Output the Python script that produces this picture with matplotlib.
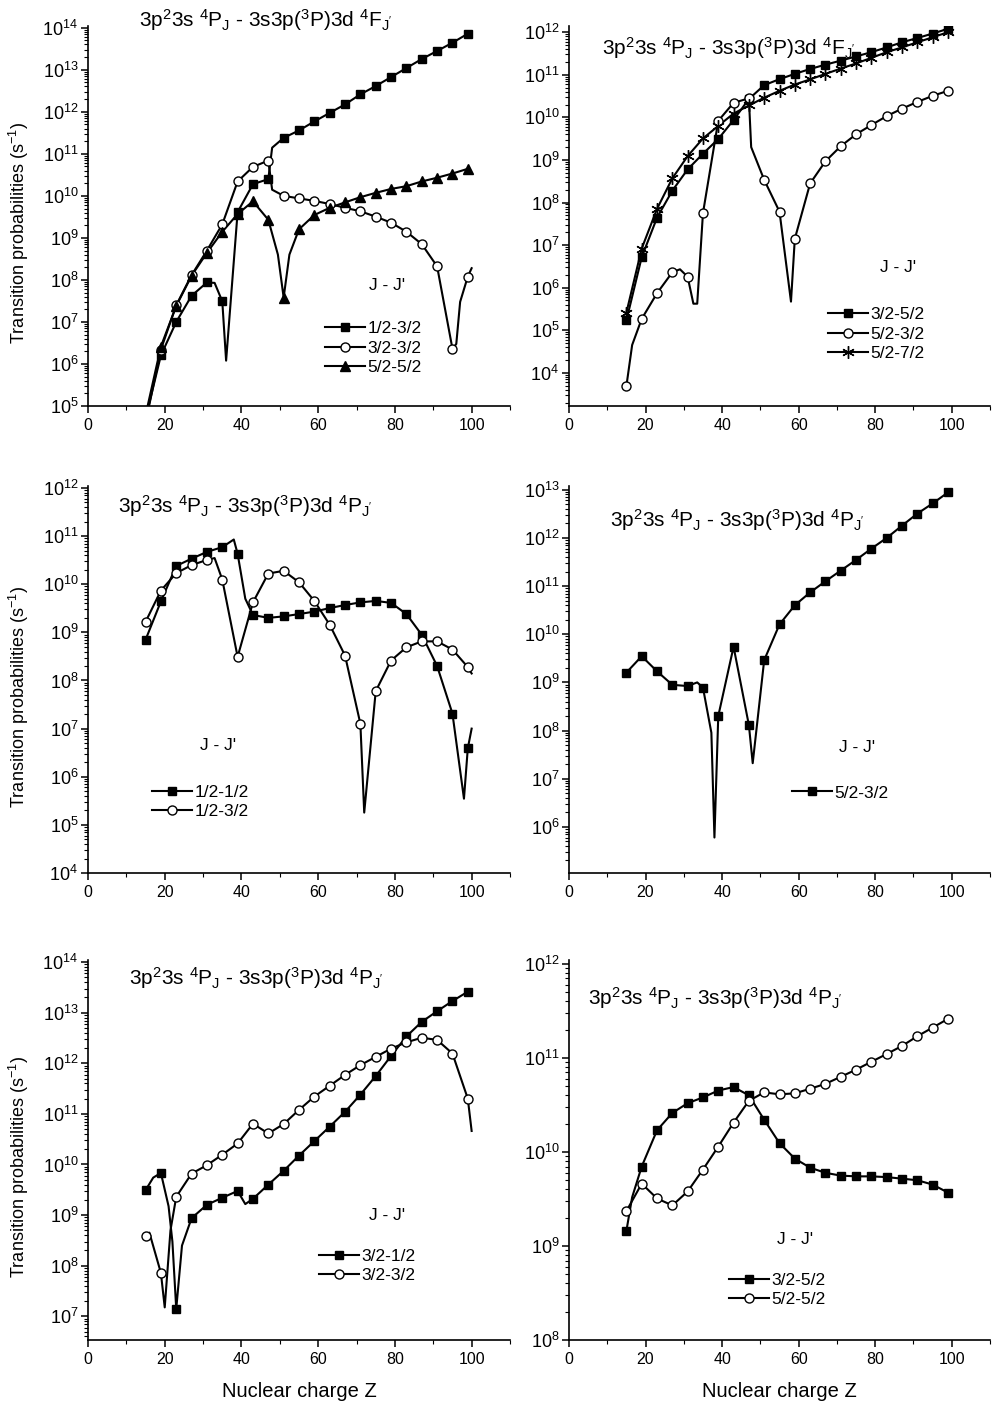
import numpy as np
import matplotlib
matplotlib.use('Agg')
import matplotlib.pyplot as plt
from matplotlib.lines import Line2D
from matplotlib.ticker import LogLocator, NullFormatter, MultipleLocator

plt.rcParams['font.family'] = ['Liberation Sans', 'DejaVu Sans']
plt.rcParams['mathtext.fontset'] = 'custom'
plt.rcParams['mathtext.rm'] = 'Liberation Sans'
plt.rcParams['mathtext.it'] = 'Liberation Sans:italic'
plt.rcParams['mathtext.default'] = 'regular'

# nuclear charge of the computed points
Z = [15, 19, 23, 27, 31, 35, 39, 43, 47, 51, 55, 59, 63, 67, 71, 75, 79, 83, 87, 91, 95, 99]

# --- 4F_J' , left ---
fa_12_32 = [5e4, 1.6e6, 1.0e7, 4.2e7, 8.7e7, 3.1e7, 4.1e9, 1.9e10, 2.5e10, 2.4e11, 3.6e11,
            5.9e11, 9.4e11, 1.5e12, 2.6e12, 4.1e12, 6.7e12, 1.1e13, 1.8e13, 2.8e13, 4.4e13, 7.2e13]
fa_12_32_xz = [33, 36, 48]
fa_12_32_xv = [8.5e7, 1.2e6, 1.4e11]
fa_32_32 = [4e4, 2.2e6, 2.5e7, 1.3e8, 5e8, 2.1e9, 2.2e10, 4.9e10, 6.9e10, 1.0e10, 8.7e9,
            7.6e9, 6.4e9, 5.2e9, 4.3e9, 3.2e9, 2.3e9, 1.4e9, 7.1e8, 2.1e8, 2.3e6, 1.2e8]
fa_32_32_xz = [48, 96, 97, 100]
fa_32_32_xv = [1.4e10, 3e6, 3e7, 1.9e8]
fa_52_52 = [6e4, 2.6e6, 2.4e7, 1.26e8, 4.4e8, 1.4e9, 3.7e9, 7.4e9, 2.7e9, 3.8e7, 1.6e9,
            3.5e9, 5.2e9, 7e9, 9.3e9, 1.18e10, 1.46e10, 1.7e10, 2.2e10, 2.7e10, 3.4e10, 4.4e10]
fa_52_52_xz = [49.5, 52.5]
fa_52_52_xv = [4e8, 4e8]

# --- 4F_J' , right ---
fb_32_52 = [1.7e5, 5.2e6, 4.4e7, 1.9e8, 6e8, 1.4e9, 3.1e9, 8.7e9, 2.7e10, 5.7e10, 7.9e10,
            1.05e11, 1.37e11, 1.73e11, 2.15e11, 2.7e11, 3.4e11, 4.4e11, 5.8e11, 7.3e11, 9.3e11, 1.2e12]
fb_52_32 = [4.9e3, 1.85e5, 7.4e5, 2.3e6, 1.8e6, 5.6e7, 8.3e9, 2.2e10, 2.8e10, 3.4e8, 6.1e7,
            1.4e7, 2.8e8, 9.3e8, 2.1e9, 4e9, 6.6e9, 1.07e10, 1.6e10, 2.3e10, 3.2e10, 4.2e10]
fb_52_32_xz = [16.5, 29, 32.5, 33.5, 47.6, 58]
fb_52_32_xv = [4.5e4, 2.7e6, 4.2e5, 4.2e5, 2e9, 4.7e5]
fb_52_72 = [2.6e5, 8.3e6, 7.1e7, 3.7e8, 1.23e9, 3.2e9, 6.3e9, 1.23e10, 1.9e10, 2.9e10, 4.2e10,
            5.9e10, 7.8e10, 1.05e11, 1.4e11, 1.85e11, 2.5e11, 3.4e11, 4.4e11, 5.8e11, 7.6e11, 1e12]

# --- 4P_J' , middle left ---
fc_12_12 = [7e8, 4.4e9, 2.4e10, 3.4e10, 4.7e10, 5.9e10, 4.3e10, 2.3e9, 2e9, 2.15e9, 2.4e9,
            2.7e9, 3.2e9, 3.7e9, 4.2e9, 4.5e9, 4.1e9, 2.4e9, 8.9e8, 2e8, 2.05e7, 3.9e6]
fc_12_12_xz = [38, 41, 98, 100]
fc_12_12_xv = [8.5e10, 5e9, 3.5e5, 1e7]
fc_12_32 = [1.65e9, 7.4e9, 1.7e10, 2.5e10, 3.2e10, 1.25e10, 3.1e8, 4.2e9, 1.67e10, 1.9e10, 1.1e10,
            4.5e9, 1.44e9, 3.3e8, 1.26e7, 6e7, 2.6e8, 4.9e8, 6.5e8, 6.5e8, 4.4e8, 1.9e8]
fc_12_32_xz = [33, 72, 100]
fc_12_32_xv = [3.5e10, 1.8e5, 1.4e8]

# --- 4P_J' , middle right ---
fd_52_32 = [1.6e9, 3.5e9, 1.7e9, 8.9e8, 8.4e8, 7.8e8, 2e8, 5.5e9, 1.3e8, 2.9e9, 1.6e10,
            4e10, 7.4e10, 1.26e11, 2.1e11, 3.5e11, 6e11, 1e12, 1.8e12, 3.2e12, 5.2e12, 8.8e12]
fd_52_32_xz = [33.5, 37.2, 38, 48]
fd_52_32_xv = [1e9, 9e7, 6e5, 2.1e7]

# --- 4P_J' , bottom left ---
fe_32_12 = [3.1e9, 6.8e9, 1.4e7, 8.7e8, 1.6e9, 2.2e9, 3e9, 2.1e9, 4e9, 7.5e9, 1.5e10,
            2.9e10, 5.6e10, 1.1e11, 2.4e11, 5.6e11, 1.4e12, 3.4e12, 6.6e12, 1.07e13, 1.7e13, 2.6e13]
fe_32_12_xz = [17, 21, 22, 24.5, 41]
fe_32_12_xv = [5.5e9, 1.5e9, 3e8, 2.5e8, 1.65e9]
fe_32_32 = [3.8e8, 7.2e7, 2.3e9, 6.6e9, 9.7e9, 1.56e10, 2.6e10, 6.4e10, 4.1e10, 6.3e10, 1.2e11,
            2.2e11, 3.6e11, 5.9e11, 9.2e11, 1.34e12, 1.95e12, 2.6e12, 3.2e12, 2.9e12, 1.56e12, 2e11]
fe_32_32_xz = [16, 20, 21.5, 100]
fe_32_32_xv = [4.5e8, 1.5e7, 5e8, 4.6e10]

# --- 4P_J' , bottom right ---
ff_32_52 = [1.45e9, 7e9, 1.7e10, 2.6e10, 3.3e10, 3.8e10, 4.5e10, 4.9e10, 4e10, 2.2e10, 1.24e10,
            8.5e9, 6.8e9, 6e9, 5.6e9, 5.5e9, 5.5e9, 5.4e9, 5.2e9, 5e9, 4.5e9, 3.7e9]
ff_32_52_xz = [16.5]
ff_32_52_xv = [3.3e9]
ff_52_52 = [2.35e9, 4.6e9, 3.2e9, 2.7e9, 3.8e9, 6.5e9, 1.14e10, 2.05e10, 3.5e10, 4.3e10, 4.1e10,
            4.2e10, 4.7e10, 5.3e10, 6.3e10, 7.5e10, 9.1e10, 1.1e11, 1.34e11, 1.7e11, 2.1e11, 2.6e11]

W, H = 992, 1404
fig = plt.figure(figsize=(W / 100, H / 100), dpi=100)

SQ = dict(marker='s', ms=6, mfc='black')
CI = dict(marker='o', ms=6.5, mfc='white')
TR = dict(marker='^', ms=7, mfc='black')
ST = dict(marker=(6, 2, 0), ms=9, mfc='black')

LEG_FS = 12.5


def make_axes(col, row, ylim):
    cols = [(88, 510), (569, 990)]
    rows = [(26, 406), (486, 873), (960, 1340)]
    x0, x1 = cols[col]
    y0, y1 = rows[row]
    ax = fig.add_axes([x0 / W, 1 - y1 / H, (x1 - x0) / W, (y1 - y0) / H])
    ax.set_yscale('log')
    ax.set_xlim(0, 110)
    # only the decades inside the range get a labelled tick
    lo = int(np.ceil(np.log10(ylim[0]) - 1e-9))
    hi = int(np.floor(np.log10(ylim[1]) + 1e-9))
    ax.set_yticks([10.0 ** k for k in range(lo, hi + 1)])
    ax.set_ylim(*ylim)
    ax.spines['top'].set_visible(False)
    ax.spines['right'].set_visible(False)
    for s in ('left', 'bottom'):
        ax.spines[s].set_linewidth(1.2)
    ax.xaxis.set_major_locator(MultipleLocator(20))
    ax.xaxis.set_minor_locator(MultipleLocator(10))
    ax.yaxis.set_minor_locator(LogLocator(base=10, subs=np.arange(2, 10), numticks=100))
    ax.yaxis.set_minor_formatter(NullFormatter())
    ax.tick_params(which='major', direction='out', length=5, width=1.1)
    ax.tick_params(which='minor', direction='out', length=3, width=0.8)
    ax.tick_params(axis='x', labelsize=11.5)
    ax.tick_params(axis='y', labelsize=13, pad=2)
    if col == 0:
        ax.set_ylabel('Transition probabilities (s$^{-1}$)', fontsize=13)
        ax.yaxis.set_label_coords(-0.135, 0.455)
    if row == 2:
        ax.set_xlabel('Nuclear charge Z', fontsize=14.5, labelpad=11)
    return ax


def draw_series(ax, vals, style, label, xz=(), xv=()):
    z = np.array(list(Z) + list(xz), dtype=float)
    v = np.array(list(vals) + list(xv), dtype=float)
    order = np.argsort(z)
    ax.plot(z[order], v[order], color='black', lw=1.5, zorder=2)
    ax.plot(Z, vals, ls='none', mec='black', mew=1.0, zorder=3, **style)
    return Line2D([], [], color='black', lw=1.5, mec='black', mew=1.0, label=label, **style)


def add_legend(ax, handles, px, py):
    ax.legend(handles=handles, loc='center left', bbox_to_anchor=(px / W, 1 - py / H),
              bbox_transform=fig.transFigure, frameon=False, fontsize=LEG_FS,
              handlelength=2.3, handletextpad=0.15, labelspacing=0.25,
              borderpad=0, borderaxespad=0, numpoints=1)


def add_text(px, py, s, **kw):
    fig.text(px / W, 1 - py / H, s, **kw)


title_F = "3p$^2$3s $^4$P$_J$ - 3s3p($^3$P)3d $^4$F$_{J'}$"
title_P = "3p$^2$3s $^4$P$_J$ - 3s3p($^3$P)3d $^4$P$_{J'}$"
TITLE_FS = 15

# panel 1
ax = make_axes(0, 0, (1e5, 1.1e14))
h = [draw_series(ax, fa_12_32, SQ, '1/2-3/2', fa_12_32_xz, fa_12_32_xv),
     draw_series(ax, fa_32_32, CI, '3/2-3/2', fa_32_32_xz, fa_32_32_xv),
     draw_series(ax, fa_52_52, TR, '5/2-5/2', fa_52_52_xz, fa_52_52_xv)]
add_legend(ax, h, 325, 348)
add_text(387, 285, "J - J'", fontsize=LEG_FS, ha='center', va='center')
add_text(139, 27, title_F, fontsize=TITLE_FS, ha='left', va='baseline')

# panel 2
ax = make_axes(1, 0, (1.66e3, 1.4e12))
h = [draw_series(ax, fb_32_52, SQ, '3/2-5/2'),
     draw_series(ax, fb_52_32, CI, '5/2-3/2', fb_52_32_xz, fb_52_32_xv),
     draw_series(ax, fb_52_72, ST, '5/2-7/2')]
add_legend(ax, h, 828, 334)
add_text(898, 267, "J - J'", fontsize=LEG_FS, ha='center', va='center')
add_text(602, 55, title_F, fontsize=TITLE_FS, ha='left', va='baseline')

# panel 3
ax = make_axes(0, 1, (1e4, 1.1e12))
h = [draw_series(ax, fc_12_12, SQ, '1/2-1/2', fc_12_12_xz, fc_12_12_xv),
     draw_series(ax, fc_12_32, CI, '1/2-3/2', fc_12_32_xz, fc_12_32_xv)]
add_legend(ax, h, 152, 802)
add_text(218, 746, "J - J'", fontsize=LEG_FS, ha='center', va='center')
add_text(118, 513, title_P, fontsize=TITLE_FS, ha='left', va='baseline')

# panel 4
ax = make_axes(1, 1, (1.1e5, 1.2e13))
h = [draw_series(ax, fd_52_32, SQ, '5/2-3/2', fd_52_32_xz, fd_52_32_xv)]
add_legend(ax, h, 792, 793)
add_text(857, 748, "J - J'", fontsize=LEG_FS, ha='center', va='center')
add_text(610, 527, title_P, fontsize=TITLE_FS, ha='left', va='baseline')

# panel 5
ax = make_axes(0, 2, (3.4e6, 1.1e14))
h = [draw_series(ax, fe_32_12, SQ, '3/2-1/2', fe_32_12_xz, fe_32_12_xv),
     draw_series(ax, fe_32_32, CI, '3/2-3/2', fe_32_32_xz, fe_32_32_xv)]
add_legend(ax, h, 319, 1266)
add_text(387, 1215, "J - J'", fontsize=LEG_FS, ha='center', va='center')
add_text(129, 985, title_P, fontsize=TITLE_FS, ha='left', va='baseline')

# panel 6
ax = make_axes(1, 2, (1e8, 1.1e12))
h = [draw_series(ax, ff_32_52, SQ, '3/2-5/2', ff_32_52_xz, ff_32_52_xv),
     draw_series(ax, ff_52_52, CI, '5/2-5/2')]
add_legend(ax, h, 729, 1290)
add_text(795, 1240, "J - J'", fontsize=LEG_FS, ha='center', va='center')
add_text(588, 1005, title_P, fontsize=TITLE_FS, ha='left', va='baseline')

fig.savefig('out.png', dpi=100)
